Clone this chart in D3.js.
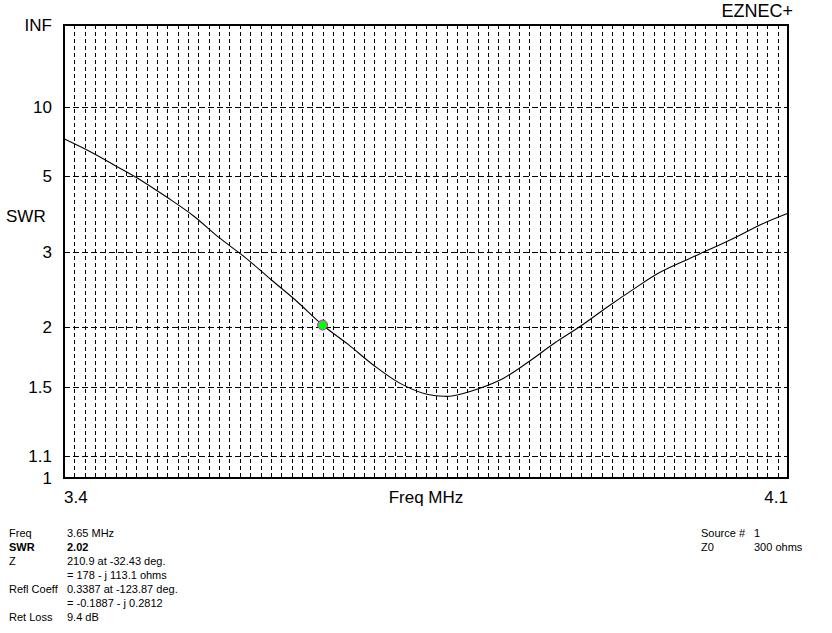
<!DOCTYPE html>
<html><head><meta charset="utf-8">
<script src="https://cdn.jsdelivr.net/npm/d3@7"></script>
<style>
html,body{margin:0;padding:0;background:#fff;}
svg{display:block;}
text{font-family:Arial,"Liberation Sans",sans-serif;fill:#000;}
</style></head>
<body>
<script>
// ---- data ----
const freqs = [3.400,3.425,3.450,3.475,3.500,3.525,3.550,3.575,3.600,3.625,3.650,3.675,3.700,3.725,3.750,3.7675,3.775,3.800,3.825,3.850,3.875,3.900,3.925,3.950,3.975,4.000,4.025,4.050,4.075,4.100];
const swrValues = [6.96,6.16,5.43,4.82,4.25,3.75,3.26,2.90,2.56,2.28,2.02,1.834,1.659,1.528,1.455,1.440,1.442,1.489,1.565,1.694,1.853,2.012,2.21,2.424,2.653,2.844,3.043,3.275,3.553,3.811];
const swrTicks = [1, 1.1, 1.5, 2, 3, 5, 10, Infinity];
const swrTickLabels = ["1", "1.1", "1.5", "2", "3", "5", "10", "INF"];
const gridSwr = [1.1, 1.5, 2, 3, 5, 10];
const freqStep = 0.01;
const freqLabels = ["3.4", "4.1"];
const markerFreq = 3.65, markerSwr = 2.02;
const infoLabels = ["Freq", "SWR", "Z", "", "Refl Coeff", "", "Ret Loss"];
const infoValues = ["3.65 MHz", "2.02", "210.9 at -32.43 deg.", "= 178 - j 113.1 ohms", "0.3387 at -123.87 deg.", "= -0.1887 - j 0.2812", "9.4 dB"];
const srcLabels = ["Source #", "Z0"];
const srcValues = ["1", "300 ohms"];

// ---- layout ----
const W = 832, H = 633;
const L = 64, R = 788, T = 25, B = 478;
const svg = d3.select("body").append("svg").attr("width", W).attr("height", H);

const x = d3.scaleLinear().domain([3.4, 4.1]).range([L, R]);
const rho = s => (s === Infinity ? 1 : (s - 1) / (s + 1));
const yr = d3.scaleLinear().domain([0, 1]).range([B, T]);
const y = s => yr(rho(s));

// vertical grid
const vg = d3.range(1, 70).map(i => 3.4 + i * freqStep);
svg.append("g").selectAll("line").data(vg).join("line")
  .attr("x1", d => Math.round(x(d)) + 0.5).attr("x2", d => Math.round(x(d)) + 0.5)
  .attr("y1", T).attr("y2", B)
  .attr("stroke", "#000").attr("stroke-width", 1).attr("stroke-dasharray", "4,3")
  .attr("shape-rendering", "crispEdges");

// horizontal grid
svg.append("g").selectAll("line").data(gridSwr).join("line")
  .attr("x1", L).attr("x2", R)
  .attr("y1", d => Math.round(y(d)) + 0.5).attr("y2", d => Math.round(y(d)) + 0.5)
  .attr("stroke", "#000").attr("stroke-width", 1).attr("stroke-dasharray", "6,3")
  .attr("shape-rendering", "crispEdges");

// frame
svg.append("rect").attr("x", L).attr("y", T).attr("width", R - L).attr("height", B - T)
  .attr("fill", "none").attr("stroke", "#000").attr("stroke-width", 2)
  .attr("shape-rendering", "crispEdges");

// y tick labels
svg.append("g").selectAll("text").data(swrTicks).join("text")
  .attr("x", 52).attr("y", d => y(d) + 6)
  .attr("text-anchor", "end").attr("font-size", 17)
  .text((d, i) => swrTickLabels[i]);

svg.append("text").attr("x", 6).attr("y", 222).attr("font-size", 17).text("SWR");
svg.append("text").attr("x", 793).attr("y", 17).attr("text-anchor", "end").attr("font-size", 18).text("EZNEC+");

// x labels
svg.append("text").attr("x", L).attr("y", 503).attr("font-size", 17).text(freqLabels[0]);
svg.append("text").attr("x", R).attr("y", 503).attr("text-anchor", "end").attr("font-size", 17).text(freqLabels[1]);
svg.append("text").attr("x", (L + R) / 2).attr("y", 503).attr("text-anchor", "middle").attr("font-size", 17).text("Freq MHz");

// curve
const data = freqs.map((f, i) => [f, swrValues[i]]);
const line = d3.line().x(d => x(d[0])).y(d => y(d[1])).curve(d3.curveCatmullRom.alpha(0.5));
svg.append("path").datum(data).attr("d", line)
  .attr("fill", "none").attr("stroke", "#000").attr("stroke-width", 1.1);

// marker
svg.append("circle").attr("cx", x(markerFreq)).attr("cy", y(markerSwr)).attr("r", 5)
  .attr("fill", "#00ff00").attr("stroke", "#ff00ff").attr("stroke-width", 1);

// info text
const info = svg.append("g").attr("font-size", 11);
infoLabels.forEach((t, i) => {
  const yy = 537 + i * 14;
  const bold = i === 1 ? "bold" : "normal";
  info.append("text").attr("x", 9).attr("y", yy).attr("font-size", 11).attr("font-weight", bold).text(t);
  info.append("text").attr("x", 67).attr("y", yy).attr("font-size", 11).attr("font-weight", bold).text(infoValues[i]);
});
srcLabels.forEach((t, i) => {
  const yy = 537 + i * 14;
  info.append("text").attr("x", 701).attr("y", yy).attr("font-size", 11).text(t);
  info.append("text").attr("x", 754).attr("y", yy).attr("font-size", 11).text(srcValues[i]);
});
</script>
</body></html>
